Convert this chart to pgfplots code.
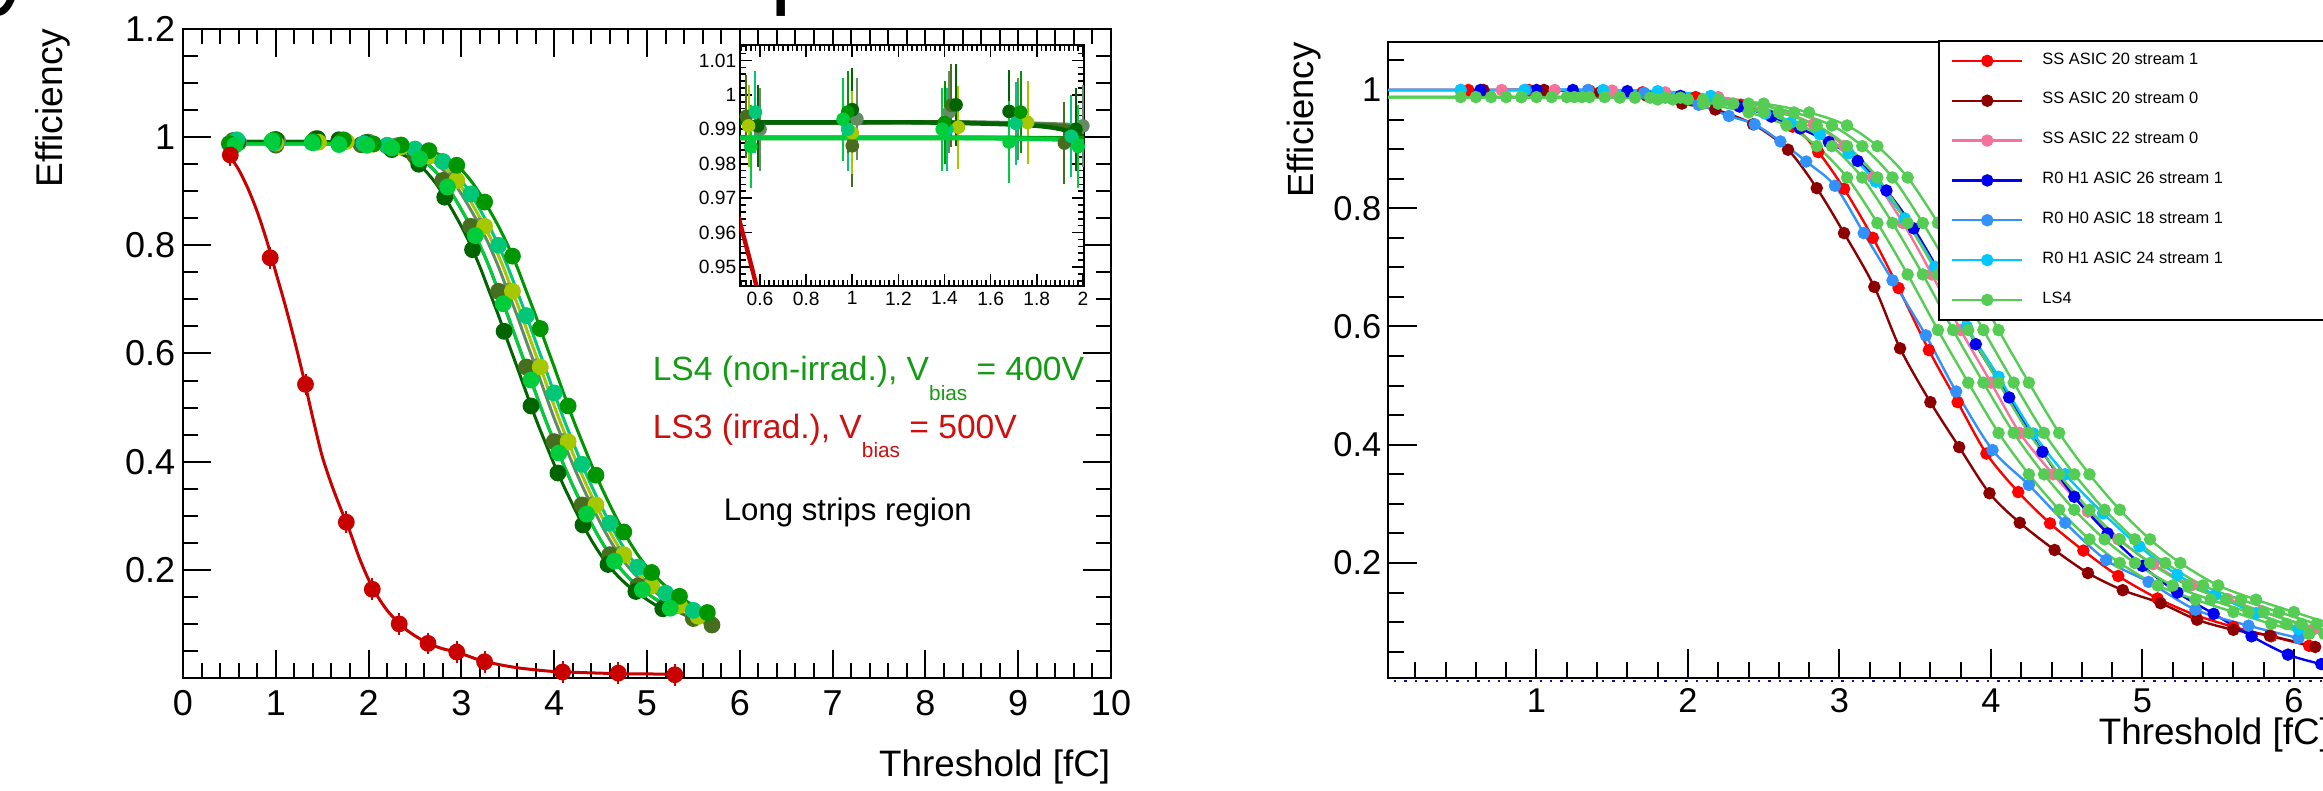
\documentclass[border=0pt]{standalone}
\usepackage{fontspec}
\setmainfont{Liberation Sans}
\usepackage{pgfplots}
\usepackage{pgfplotstable}
\pgfplotsset{compat=1.18}

\definecolor{cdkg}{RGB}{0,100,0}
\definecolor{colv}{RGB}{70,110,30}
\definecolor{cgrn}{RGB}{0,150,0}
\definecolor{clim}{RGB}{0,205,60}
\definecolor{cyg}{RGB}{165,200,0}
\definecolor{cmnt}{RGB}{0,200,120}
\definecolor{cgg}{RGB}{100,140,100}
\definecolor{clsr}{RGB}{200,0,0}
\definecolor{tgrn}{RGB}{20,155,20}
\definecolor{tred}{RGB}{205,15,15}
\definecolor{rred}{RGB}{255,0,0}
\definecolor{rdkr}{RGB}{140,0,0}
\definecolor{rpnk}{RGB}{245,115,155}
\definecolor{rblu}{RGB}{0,0,240}
\definecolor{rdod}{RGB}{50,145,250}
\definecolor{rcya}{RGB}{0,200,255}
\definecolor{rgrn}{RGB}{85,205,85}
\definecolor{rnav}{RGB}{20,20,140}

% LS4 fits, left panel: x columns for each curve, p1/p2 = efficiency
\pgfplotstableread{
a b c d e g p1 p2
0.5 0.5 0.5 0.5 0.5 0.5 0.992 0.9875
0.8 0.9 1.0 1.05 1.1 1.2 0.992 0.9875
1.3 1.4 1.5 1.55 1.6 1.7 0.992 0.9875
1.8 1.9 2.0 2.05 2.1 2.2 0.991 0.987
2.0 2.1 2.2 2.25 2.3 2.4 0.988 0.985
2.2 2.3 2.4 2.45 2.5 2.6 0.980 0.978
2.3 2.4 2.5 2.55 2.6 2.7 0.973 0.972
2.4 2.5 2.6 2.65 2.7 2.8 0.965 0.965
2.5 2.6 2.7 2.75 2.8 2.9 0.955 0.955
2.6 2.7 2.8 2.85 2.9 3.0 0.940 0.940
2.7 2.8 2.9 2.95 3.0 3.1 0.920 0.920
2.8 2.9 3.0 3.05 3.1 3.2 0.895 0.895
2.9 3.0 3.1 3.15 3.2 3.3 0.866 0.866
3.0 3.1 3.2 3.25 3.3 3.4 0.835 0.835
3.1 3.2 3.3 3.35 3.4 3.5 0.800 0.800
3.2 3.3 3.4 3.45 3.5 3.6 0.760 0.760
3.3 3.4 3.5 3.55 3.6 3.7 0.715 0.715
3.4 3.5 3.6 3.65 3.7 3.8 0.670 0.670
3.5 3.6 3.7 3.75 3.8 3.9 0.622 0.622
3.6 3.7 3.8 3.85 3.9 4.0 0.575 0.575
3.7 3.8 3.9 3.95 4.0 4.1 0.527 0.527
3.8 3.9 4.0 4.05 4.1 4.2 0.480 0.480
3.9 4.0 4.1 4.15 4.2 4.3 0.437 0.437
4.0 4.1 4.2 4.25 4.3 4.4 0.395 0.395
4.1 4.2 4.3 4.35 4.4 4.5 0.356 0.356
4.2 4.3 4.4 4.45 4.5 4.6 0.320 0.320
4.3 4.4 4.5 4.55 4.6 4.7 0.286 0.286
4.4 4.5 4.6 4.65 4.7 4.8 0.255 0.255
4.5 4.6 4.7 4.75 4.8 4.9 0.228 0.228
4.6 4.7 4.8 4.85 4.9 5.0 0.205 0.205
4.7 4.8 4.9 4.95 5.0 5.1 0.186 0.186
4.8 4.9 5.0 5.05 5.1 5.2 0.170 0.170
4.9 5.0 5.1 5.15 5.2 5.3 0.157 0.157
5.0 5.1 5.2 5.25 5.3 5.4 0.145 0.145
5.1 5.2 5.3 5.35 5.4 5.5 0.134 0.134
5.2 5.3 5.4 5.45 5.5 5.6 0.125 0.125
5.3 5.4 5.5 5.55 5.6 5.7 0.117 0.117
5.4 5.5 5.6 5.65 5.7 5.8 0.110 0.110
5.5 5.6 5.7 5.75 5.8 5.9 0.104 0.104
5.6 5.7 5.8 5.85 5.9 6.0 0.098 0.098
}\lsfit

\pgfplotstableread{
x y
0.59 0.991
1.00 0.9957
1.45 0.9971
1.68 0.9952
1.97 0.990
2.25 0.977
2.54 0.950
2.82 0.889
3.12 0.792
3.46 0.641
3.75 0.503
4.04 0.379
4.31 0.283
4.58 0.210
4.88 0.160
5.17 0.128
}\mkA
\pgfplotstableread{
x y
0.54 0.9938
1.00 0.9852
1.43 0.9970
1.92 0.9860
2.20 0.984
2.50 0.965
2.80 0.920
3.10 0.835
3.40 0.715
3.70 0.575
4.00 0.437
4.30 0.320
4.60 0.228
4.90 0.170
5.20 0.134
5.50 0.110
5.70 0.098
}\mkB
\pgfplotstableread{
x y
0.50 0.9880
0.98 0.9950
1.40 0.9920
1.73 0.9950
2.05 0.9875
2.35 0.9855
2.65 0.975
2.95 0.948
3.25 0.880
3.55 0.780
3.85 0.646
4.15 0.503
4.45 0.375
4.75 0.270
5.05 0.195
5.35 0.151
5.65 0.121
}\mkC
\pgfplotstableread{
x y
0.56 0.985
0.96 0.9929
1.39 0.990
1.68 0.9863
1.98 0.985
2.25 0.980
2.55 0.960
2.85 0.908
3.15 0.818
3.45 0.692
3.75 0.551
4.05 0.416
4.35 0.303
4.65 0.216
4.95 0.163
5.25 0.129
}\mkD
\pgfplotstableread{
x y
0.55 0.991
1.00 0.989
1.46 0.9906
1.76 0.992
2.05 0.987
2.35 0.982
2.65 0.965
2.95 0.920
3.25 0.835
3.55 0.715
3.85 0.575
4.15 0.437
4.45 0.320
4.75 0.228
5.05 0.170
5.35 0.134
5.55 0.114
}\mkE
\pgfplotstableread{
x y
0.58 0.995
0.98 0.990
1.41 0.990
1.71 0.9917
1.95 0.988
2.20 0.985
2.50 0.978
2.80 0.955
3.10 0.895
3.40 0.800
3.70 0.670
4.00 0.527
4.30 0.395
4.60 0.286
4.90 0.205
5.20 0.157
5.50 0.125
}\mkF
\pgfplotstableread{
x y
0.60 0.990
1.02 0.993
1.42 0.995
1.72 0.993
2.00 0.991
2.30 0.984
2.60 0.965
2.90 0.920
3.20 0.835
3.50 0.715
3.80 0.575
4.10 0.437
4.40 0.320
4.70 0.228
5.00 0.170
5.30 0.134
5.50 0.117
}\mkG

% LS3 (irradiated)
\pgfplotstableread{
x y
0.50 0.966
0.60 0.940
0.70 0.905
0.80 0.862
0.90 0.810
1.00 0.750
1.10 0.690
1.20 0.625
1.30 0.555
1.40 0.480
1.50 0.410
1.60 0.358
1.70 0.313
1.80 0.270
1.90 0.222
2.00 0.182
2.10 0.150
2.20 0.125
2.30 0.106
2.40 0.090
2.50 0.078
2.60 0.068
2.70 0.060
2.80 0.054
2.90 0.050
3.00 0.045
3.20 0.033
3.40 0.025
3.60 0.019
3.80 0.015
4.00 0.012
4.30 0.010
4.70 0.008
5.00 0.0075
5.30 0.007
}\lsredfit
\pgfplotstableread{
x y
0.51 0.967
0.94 0.777
1.32 0.543
1.76 0.288
2.04 0.164
2.33 0.100
2.64 0.064
2.95 0.048
3.25 0.030
4.09 0.011
4.69 0.009
5.30 0.006
}\mkR

% right panel
\pgfplotstableread{
x y
0.02 1.0
0.55 1.0
0.95 1.0
1.35 0.999
1.70 0.996
2.05 0.988
2.35 0.975
2.69 0.938
2.86 0.895
3.03 0.833
3.22 0.750
3.39 0.665
3.59 0.560
3.78 0.472
3.97 0.385
4.18 0.320
4.39 0.267
4.61 0.221
4.84 0.178
5.10 0.140
5.35 0.112
5.60 0.092
5.85 0.076
6.10 0.060
}\rR
\pgfplotstableread{
x y
0.02 1.0
0.65 1.0
1.05 1.0
1.42 0.996
1.73 0.990
1.96 0.977
2.18 0.967
2.43 0.942
2.66 0.899
2.85 0.834
3.03 0.758
3.23 0.667
3.40 0.563
3.60 0.472
3.79 0.396
3.99 0.318
4.19 0.268
4.42 0.222
4.64 0.183
4.87 0.154
5.12 0.132
5.36 0.104
5.60 0.087
5.84 0.077
6.14 0.058
}\rDR
\pgfplotstableread{
x y
0.02 1.0
0.77 1.0
1.12 1.0
1.50 0.999
1.85 0.996
2.20 0.988
2.50 0.975
2.83 0.942
3.03 0.905
3.22 0.852
3.42 0.775
3.61 0.688
3.80 0.594
4.00 0.505
4.19 0.420
4.41 0.350
4.64 0.287
4.84 0.240
5.07 0.198
5.32 0.162
5.56 0.139
5.79 0.118
6.13 0.088
}\rP
\pgfplotstableread{
x y
0.02 1.0
0.63 1.0
1.00 1.0
1.24 1.0
1.60 0.998
1.95 0.990
2.34 0.972
2.55 0.955
2.74 0.935
2.93 0.912
3.12 0.880
3.31 0.830
3.49 0.766
3.70 0.673
3.90 0.570
4.12 0.480
4.34 0.388
4.55 0.312
4.77 0.250
5.00 0.195
5.23 0.150
5.47 0.114
5.72 0.076
5.96 0.045
6.18 0.029
}\rB
\pgfplotstableread{
x y
0.02 1.0
0.50 1.0
0.93 1.0
1.34 1.0
1.71 0.995
2.07 0.975
2.27 0.956
2.44 0.942
2.61 0.913
2.78 0.879
2.97 0.838
3.16 0.758
3.35 0.678
3.57 0.585
3.77 0.490
4.01 0.391
4.25 0.332
4.49 0.268
4.76 0.205
5.04 0.168
5.35 0.121
5.70 0.094
6.03 0.073
}\rDB
\pgfplotstableread{
x y
0.02 1.0
0.50 1.0
0.92 1.0
1.44 1.0
1.80 0.998
2.15 0.990
2.51 0.960
2.68 0.945
2.87 0.925
3.06 0.893
3.24 0.845
3.43 0.783
3.63 0.701
3.84 0.600
4.05 0.515
4.28 0.419
4.49 0.350
4.74 0.284
4.98 0.228
5.23 0.180
5.48 0.146
5.75 0.115
6.03 0.088
}\rC
\pgfplotstableread{
xa xb xc xd xe y
0.02 0.02 0.02 0.02 0.02 0.988
0.50 0.60 0.70 0.80 0.90 0.988
0.90 1.00 1.10 1.20 1.30 0.988
1.25 1.35 1.45 1.55 1.65 0.988
1.55 1.65 1.75 1.85 1.95 0.987
1.80 1.90 2.00 2.10 2.20 0.984
2.10 2.20 2.30 2.40 2.50 0.977
2.40 2.50 2.60 2.70 2.80 0.962
2.65 2.75 2.85 2.95 3.05 0.940
2.85 2.95 3.05 3.15 3.25 0.905
3.05 3.15 3.25 3.35 3.45 0.852
3.25 3.35 3.45 3.55 3.65 0.775
3.45 3.55 3.65 3.75 3.85 0.688
3.65 3.75 3.85 3.95 4.05 0.594
3.85 3.95 4.05 4.15 4.25 0.505
4.05 4.15 4.25 4.35 4.45 0.420
4.25 4.35 4.45 4.55 4.65 0.350
4.45 4.55 4.65 4.75 4.85 0.290
4.65 4.75 4.85 4.95 5.05 0.240
4.85 4.95 5.05 5.15 5.25 0.200
5.10 5.20 5.30 5.40 5.50 0.162
5.35 5.45 5.55 5.65 5.75 0.138
5.60 5.70 5.80 5.90 6.00 0.117
5.85 5.95 6.05 6.15 6.25 0.097
6.10 6.20 6.30 6.40 6.50 0.080
}\rG

\pgfplotsset{
  rootax/.style={
    scale only axis, anchor=south west,
    axis line style={line width=0.5pt, black},
    every tick/.style={line width=0.5pt, black},
    tick align=inside,
    /pgf/number format/assume math mode=true,
    clip=false,
  },
}

% one LS4 module: fit curve + points
\newcommand\lsplot[5]{%
  \addplot[color=#1, line width=\lslw, smooth, restrict x to domain=0:#4, forget plot] table[x=#2,y=#3]{\lsfit};
  \addplot[color=#1, only marks, mark=*, mark size=\lsmark, forget plot,
    error bars/.cd, x dir=both, x fixed=\lserrx, y dir=both, y fixed=\lserry,
    error mark=none, error bar style={line width=0.5pt}] table[x=x,y=y]{#5};
}
\newcommand\lsall{%
  \lsplot{cgg}{c}{p1}{5.5}{\mkG}
  \lsplot{colv}{b}{p1}{5.7}{\mkB}
  \lsplot{cdkg}{a}{p1}{5.25}{\mkA}
  \lsplot{cyg}{d}{p2}{5.6}{\mkE}
  \lsplot{cmnt}{e}{p2}{5.6}{\mkF}
  \lsplot{cgrn}{g}{p2}{5.7}{\mkC}
  \lsplot{clim}{b}{p2}{5.3}{\mkD}
  \addplot[clsr, line width=\lslw, smooth, forget plot] table[x=x,y=y]{\lsredfit};
  \addplot[clsr, only marks, mark=*, mark size=\lsmark, forget plot,
    error bars/.cd, x dir=both, x fixed=\lserrx, y dir=both, y fixed=0.02,
    error mark=none, error bar style={line width=0.5pt}] table[x=x,y=y]{\mkR};
}
% right panel curve with points
\newcommand\rplot[4][]{%
  \addplot[color=#2, line width=0.6pt, smooth, mark=*, mark size=1.25pt,
    mark repeat=1, mark phase=2, mark options={solid}, #1] table[x=#3,y=y]{#4};
}

\begin{document}
\begin{tikzpicture}[trim left=0pt, trim right=580.75pt]
\path (0,0) rectangle (580.75pt,197.75pt);
\clip (0,0) rectangle (580.75pt,197.75pt);

% ---- left: main
\def\lsmark{1.9pt}\def\lserrx{0.07}\def\lserry{0.015}\def\lslw{0.75pt}
\begin{axis}[rootax, at={(45.75pt,28.25pt)}, width=232pt, height=162.25pt,
  xmin=0, xmax=10, ymin=0, ymax=1.2,
  xtick={0,1,...,10}, minor xtick={0.2,0.4,...,9.8},
  ytick={0.2,0.4,0.6,0.8,1,1.2}, minor ytick={0.05,0.1,...,1.15},
  major tick length=7pt, minor tick length=3.75pt,
  tick label style={font=\fontsize{9}{10}\selectfont},
  xticklabel style={inner ysep=3pt}, yticklabel style={inner xsep=1.75pt}]
\lsall
\end{axis}

% ---- left: inset
\def\lsmark{1.5pt}\def\lserrx{0}\def\lserry{0.012}\def\lslw{1.1pt}
\begin{axis}[rootax, clip=true, at={(185pt,126.25pt)}, width=86pt, height=60.25pt,
  xmin=0.513, xmax=2.005, ymin=0.9445, ymax=1.0145,
  axis background/.style={fill=white},
  xtick={0.6,0.8,1,1.2,1.4,1.6,1.8,2}, minor xtick={0.52,0.54,...,2.0},
  ytick={0.95,0.96,0.97,0.98,0.99,1,1.01}, minor ytick={0.946,0.948,...,1.014},
  major tick length=3pt, minor tick length=1.5pt,
  every tick/.style={line width=0.4pt, black},
  tick label style={font=\fontsize{4.8}{5.5}\selectfont},
  xticklabel style={inner ysep=1.25pt}, yticklabel style={inner xsep=0.75pt}]
\lsall
\end{axis}

% ---- right panel
\begin{axis}[rootax, at={(347pt,28.25pt)}, width=235.95pt, height=159pt,
  xmin=0.02, xmax=6.25, ymin=0.0055, ymax=1.0812,
  xtick={1,...,6}, minor xtick={0.2,0.4,...,6.2},
  ytick={0.2,0.4,0.6,0.8,1}, minor ytick={0.05,0.1,...,1.05},
  xtick pos=left, ytick pos=left,
  major tick length=7.25pt, minor tick length=4pt,
  tick label style={font=\fontsize{8.6}{10}\selectfont},
  xticklabel style={inner ysep=2.5pt}, yticklabel style={inner xsep=1.5pt},
  legend image code/.code={\draw[#1, mark repeat=2, mark phase=2] plot coordinates {(0pt,0pt) (8.75pt,0pt) (17.5pt,0pt)};},
  legend style={at={(0.5828,1.003)}, anchor=north west, draw=black, line width=0.5pt,
    fill=white, font=\fontsize{4.1}{4.9}\selectfont, inner xsep=3pt, inner ysep=0.65pt,
    row sep=1.36pt, column sep=2.75pt,
    cells={anchor=west, inner sep=1pt, text height=3.1pt, text depth=0pt}}]
\addplot[rnav, line width=0.6pt, dotted, forget plot] coordinates {(0.06,0) (6.3,0)};
\rplot{rred}{x}{\rR}
\addlegendentry{\makebox[80pt][l]{SS ASIC 20 stream 1}}
\rplot{rdkr}{x}{\rDR}
\addlegendentry{\makebox[80pt][l]{SS ASIC 20 stream 0}}
\rplot{rpnk}{x}{\rP}
\addlegendentry{\makebox[80pt][l]{SS ASIC 22 stream 0}}
\rplot{rblu}{x}{\rB}
\addlegendentry{\makebox[80pt][l]{R0 H1 ASIC 26 stream 1}}
\rplot{rdod}{x}{\rDB}
\addlegendentry{\makebox[80pt][l]{R0 H0 ASIC 18 stream 1}}
\rplot{rcya}{x}{\rC}
\addlegendentry{\makebox[80pt][l]{R0 H1 ASIC 24 stream 1}}
\rplot{rgrn}{xc}{\rG}
\addlegendentry{\makebox[80pt][l]{LS4}}
\rplot[forget plot]{rgrn}{xa}{\rG}
\rplot[forget plot]{rgrn}{xb}{\rG}
\rplot[forget plot]{rgrn}{xd}{\rG}
\rplot[forget plot]{rgrn}{xe}{\rG}
\end{axis}

% ---- texts
\node[anchor=base east, rotate=90, inner sep=0, font=\fontsize{9.3}{11}\selectfont] at (15.75pt,190.75pt) {Efficiency};
\node[anchor=base east, rotate=90, inner sep=0, font=\fontsize{9.1}{11}\selectfont] at (328.25pt,187.25pt) {Efficiency};
\node[anchor=base east, inner sep=0, font=\fontsize{9.2}{11}\selectfont] at (277.75pt,3.5pt) {Threshold [fC]};
\node[anchor=base west, inner sep=0, font=\fontsize{9.2}{11}\selectfont] at (524.5pt,11.5pt) {Threshold [fC]};
\node[anchor=base west, inner sep=0, text=tgrn, font=\fontsize{8.4}{10}\selectfont] at (163pt,102.575pt)
  {LS4 (non-irrad.), V\raisebox{-4.85pt}{\fontsize{5.2}{6}\selectfont bias} = 400V};
\node[anchor=base west, inner sep=0, text=tred, font=\fontsize{8.4}{10}\selectfont] at (163pt,88.175pt)
  {LS3 (irrad.), V\raisebox{-4.85pt}{\fontsize{5.2}{6}\selectfont bias} = 500V};
\node[anchor=base west, inner sep=0, font=\fontsize{7.8}{9}\selectfont] at (180.75pt,67.575pt) {Long strips region};
% descenders of the caption line cut off above the picture
\node[anchor=base west, inner sep=0, font=\fontsize{24}{28}\selectfont] at (-3pt,198.5pt) {y};
\node[anchor=base west, inner sep=0, font=\fontsize{24}{28}\selectfont] at (192.5pt,198.5pt) {p};
\end{tikzpicture}
\end{document}
